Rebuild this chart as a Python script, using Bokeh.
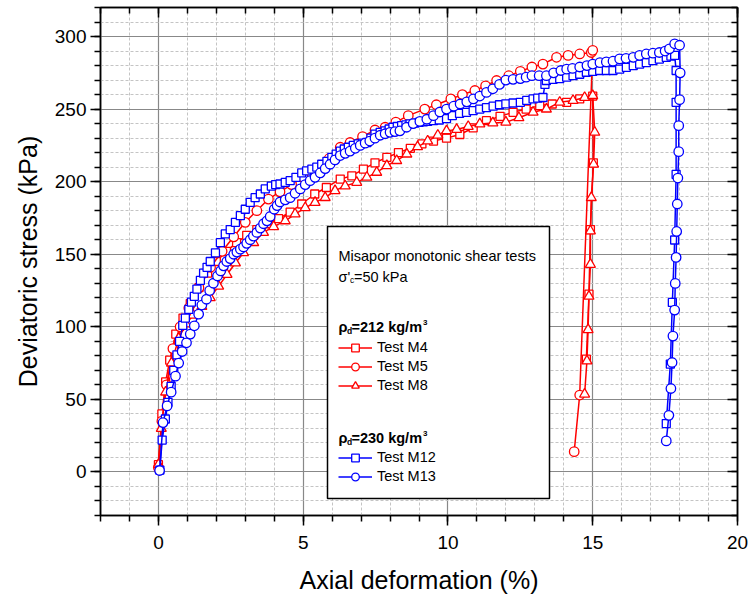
from bokeh.plotting import figure
from bokeh.models import (LinearAxis, FixedTicker, Range1d, BoxAnnotation, Label,
                          Legend, LegendItem, CustomJSTickFormatter)
from bokeh.embed import file_html
from bokeh.resources import INLINE

FONT = "Liberation Sans"
RED = "#ff0000"
BLUE = "#0000ff"

# ---------------- data ----------------
x_major = [0, 5, 10, 15, 20]
x_minor = list(range(-2, 21))
y_major = [0, 50, 100, 150, 200, 250, 300]
y_minor = list(range(-30, 321, 10))

# Test M4 (red squares)
x4 = [0, 0.12, 0.25, 0.39, 0.6, 0.85, 1.1, 1.4, 1.7, 2.0,
      2.35, 2.7, 3.05, 3.4, 3.75, 4.15, 4.55, 4.95, 5.4, 5.8,
      6.28, 6.68, 7.08, 7.48, 7.89, 8.29, 8.7, 9.1, 9.5, 9.95,
      10.41, 10.87, 11.33, 11.8, 12.25, 12.7, 13.17, 13.6, 14.1, 14.55,
      15.0, 15.02, 14.92, 14.87, 14.78]
y4 = [5, 40, 62, 77, 95, 106, 116, 127, 137, 145,
      152, 158, 163, 167, 171, 174.5, 179, 184.6, 191.5, 196,
      201.8, 204, 208.7, 213, 216.7, 220, 223, 226, 228, 230,
      232.5, 237, 242, 245, 247.8, 250, 252.4, 253.5, 254.7, 257,
      259, 213, 167, 122.5, 77.7]

# Test M5 (red circles)
x5 = [0, 0.12, 0.28, 0.5, 0.75, 1.05, 1.4, 1.8, 2.2, 2.6,
      3.0, 3.4, 3.8, 4.2, 4.6, 5.0, 5.4, 5.9, 6.28, 6.62,
      7.05, 7.48, 7.83, 8.2, 8.63, 9.2, 9.6, 10.1, 10.5, 10.93,
      11.3, 11.68, 12.1, 12.5, 12.9, 13.28, 13.75, 14.15, 14.55, 14.95,
      15.0, 14.55, 14.36]
y5 = [3, 35, 60, 85, 100, 113, 127, 141, 152, 162,
      172, 180, 188, 193, 198, 203, 208, 216, 223.7, 227,
      231, 235.6, 237.5, 241, 245.5, 250, 253, 257, 260, 262.8,
      266, 269.7, 273, 276, 279, 281, 285.7, 287, 288, 289,
      290.5, 53, 14]

# Test M8 (red triangles)
x8 = [0, 0.1, 0.25, 0.45, 0.7, 0.95, 1.2, 1.5, 1.79, 2.08,
      2.37, 2.66, 2.94, 3.29, 3.63, 3.98, 4.38, 4.72, 5.07, 5.41,
      5.76, 6.1, 6.45, 6.85, 7.2, 7.54, 7.89, 8.23, 8.58, 8.95,
      9.3, 9.65, 9.95, 10.3, 10.7, 11.1, 11.55, 12.0, 12.45, 12.94,
      13.4, 13.86, 14.32, 14.72, 15.0, 15.07, 15.03, 14.95, 14.92, 14.92,
      14.87, 14.84, 14.8, 14.72]
y8 = [5, 30, 55, 75, 92, 102, 108, 114, 120, 128,
      136, 144, 151, 158, 165, 169, 173, 177.7, 182, 185.7,
      189, 193.8, 197, 199.5, 203, 206.4, 211, 214.5, 219, 224,
      228, 232, 235, 236, 238, 239.8, 240.5, 241, 244, 247.8,
      250, 254.7, 255.9, 258, 259.3, 234, 212, 189, 166, 143,
      121, 98, 76.5, 53.6]

# Test M12 (blue squares)
x12 = [0.05, 0.13, 0.24, 0.33, 0.44, 0.53, 0.64, 0.73, 0.84, 0.93,
       1.05, 1.14, 1.24, 1.33, 1.45, 1.56, 1.68, 1.79, 1.97, 2.14,
       2.31, 2.48, 2.66, 2.83, 3.0, 3.17, 3.34, 3.52, 3.69, 3.9,
       4.05, 4.2, 4.38, 4.55, 4.75, 4.95, 5.12, 5.3, 5.47, 5.64,
       5.82, 5.99, 6.14, 6.28, 6.42, 6.56, 6.73, 6.9, 7.05, 7.2,
       7.34, 7.48, 7.66, 7.83, 7.97, 8.1, 8.25, 8.4, 8.55, 8.69,
       8.85, 9.0, 9.15, 9.3, 9.5, 9.7, 9.95, 10.15, 10.4, 10.64,
       10.87, 11.1, 11.33, 11.56, 11.78, 12.0, 12.25, 12.5, 12.72, 12.94,
       13.1, 13.28, 13.35, 13.4, 13.63, 13.86, 14.1, 14.32, 14.55, 14.78,
       15.0, 15.24, 15.47, 15.7, 15.93, 16.16, 16.4, 16.62, 16.85, 17.08,
       17.3, 17.54, 17.7, 17.83, 17.88, 17.88, 17.88, 17.83, 17.75, 17.68,
       17.54]
y12 = [1.3, 22, 36.5, 48, 59, 70, 80.7, 90, 101, 106,
       112, 117, 121, 126, 132, 137, 141, 145, 151, 158,
       164, 167, 172, 176.6, 181, 185.7, 189, 191.5, 195, 197,
       198, 198.4, 199.5, 200.7, 203, 206, 207.5, 208.7, 210, 212,
       214, 216.7, 219, 221, 222.5, 223.7, 225, 226, 226.5, 227,
       230, 232.8, 234, 235, 236.3, 237.5, 238, 238.6, 239.2, 239.8,
       240.3, 240.8, 241.2, 241.6, 242, 242.5, 243.5, 245.5, 247, 247.8,
       249, 250, 251, 252, 253, 253.6, 254.2, 254.7, 256, 257,
       257.5, 258, 267, 269.7, 270.5, 271, 272, 273, 274, 275.4,
       276, 276.6, 276.6, 276.6, 277.5, 278.8, 280, 281, 282, 283.4,
       284.5, 285.7, 286.5, 287, 276.6, 254.7, 205, 159.8, 116.8, 74.3,
       33.3]

# Test M13 (blue circles)
x13 = [0.04, 0.16, 0.3, 0.44, 0.59, 0.7, 0.82, 0.97, 1.1, 1.24,
       1.39, 1.5, 1.66, 1.77, 1.9, 2.04, 2.15, 2.25, 2.36, 2.48,
       2.6, 2.71, 2.83, 2.94, 3.05, 3.17, 3.28, 3.4, 3.52, 3.63,
       3.75, 3.86, 4.0, 4.1, 4.2, 4.38, 4.55, 4.72, 4.9, 5.07,
       5.24, 5.41, 5.59, 5.76, 5.93, 6.1, 6.28, 6.45, 6.62, 6.8,
       6.97, 7.14, 7.3, 7.48, 7.66, 7.83, 8.0, 8.17, 8.34, 8.57,
       8.8, 9.03, 9.27, 9.5, 9.72, 9.95, 10.2, 10.42, 10.65, 10.88,
       11.1, 11.33, 11.55, 11.78, 12.0, 12.25, 12.5, 12.7, 12.9, 13.15,
       13.4, 13.65, 13.9, 14.1, 14.3, 14.55, 14.8, 15.0, 15.25, 15.47,
       15.7, 15.93, 16.15, 16.4, 16.62, 16.85, 17.08, 17.3, 17.5, 17.65,
       17.83, 18.0, 18.02, 18.0, 17.97, 17.97, 17.94, 17.92, 17.9, 17.88,
       17.85, 17.83, 17.77, 17.74, 17.7, 17.63, 17.54]
y13 = [1, 34, 45.5, 55, 66, 75, 83, 89, 95, 100.7,
       108.7, 115, 119, 125, 130, 135, 138.5, 142, 145, 147,
       150, 151.5, 153.5, 155, 157.5, 160, 162.5, 165, 168, 171,
       173, 176, 181, 183.5, 186, 187.5, 189, 192, 195, 198,
       200.7, 203, 206, 209, 212, 215, 218, 219.5, 221, 223,
       225, 226.5, 228, 230, 232, 233, 234, 234.5, 235, 237.5,
       240, 241.5, 243, 245.5, 248, 250, 252, 253.5, 255, 257,
       259, 261.5, 264, 267, 270, 270.5, 271, 272, 273, 273,
       273, 275, 276.6, 277.5, 278, 279, 280, 281, 282, 282.5,
       283, 284.6, 285, 285.7, 287, 288, 288.5, 289, 290, 291.5,
       295, 294, 275, 256.5, 238.6, 220.7, 202.5, 184.6, 165.7, 147.8,
       129.9, 111.5, 93.6, 75.4, 57.5, 39, 21.4]

series = [
    ("Test M4", x4, y4, RED, "square", 8),
    ("Test M5", x5, y5, RED, "circle", 9.5),
    ("Test M8", x8, y8, RED, "triangle", 10),
    ("Test M12", x12, y12, BLUE, "square", 8),
    ("Test M13", x13, y13, BLUE, "circle", 9.5),
]

# ---------------- figure ----------------
X0, X1, Y0, Y1 = -2, 20, -30, 320
FL, FR, FT, FB = 100, 737, 7, 515  # intended frame edges on the page
p = figure(width=748, height=600, x_range=Range1d(X0, X1), y_range=Range1d(Y0, Y1),
           output_backend="svg", toolbar_location=None,
           min_border_left=FL, min_border_right=748 - FR, min_border_top=FT,
           min_border_bottom=600 - FB)
p.background_fill_color = "white"
p.border_fill_color = "white"
p.outline_line_color = "black"
p.outline_line_width = 1.5

xt = FixedTicker(ticks=x_major, minor_ticks=x_minor)
yt = FixedTicker(ticks=y_major, minor_ticks=y_minor)

for ax in [p.xaxis[0], p.yaxis[0]]:
    ax.axis_line_color = "black"
    ax.axis_line_width = 1.5
    ax.major_tick_line_width = 1.5
    ax.minor_tick_line_width = 1.5
    ax.major_tick_out = 10
    ax.major_tick_in = 0
    ax.minor_tick_out = 6
    ax.minor_tick_in = 0
    ax.major_label_text_font = FONT
    ax.major_label_text_font_size = "19px"
    ax.major_label_text_color = "black"
    ax.axis_label_text_font = FONT
    ax.axis_label_text_font_size = "25px"
    ax.axis_label_text_font_style = "normal"
    ax.axis_label_text_color = "black"

p.xaxis[0].ticker = xt
p.yaxis[0].ticker = yt
p.xaxis[0].axis_label = "Axial deformation (%)"
p.yaxis[0].axis_label = "Deviatoric stress (kPa)"
p.xaxis[0].major_label_standoff = 10
p.xaxis[0].axis_label_standoff = 14
p.yaxis[0].major_label_standoff = 4
p.yaxis[0].axis_label_standoff = 10

blank = CustomJSTickFormatter(code="return ''")
top = LinearAxis(ticker=xt, formatter=blank)
right = LinearAxis(ticker=yt, formatter=blank)
for ax in [top, right]:
    ax.axis_line_color = "black"
    ax.axis_line_width = 1.5
    ax.major_tick_line_width = 1.5
    ax.minor_tick_line_width = 1.5
    ax.major_tick_in = 10
    ax.major_tick_out = 0
    ax.minor_tick_in = 6
    ax.minor_tick_out = 0
    ax.major_label_standoff = 0
    ax.major_label_text_font_size = "1px"
p.add_layout(top, "above")
p.add_layout(right, "right")

p.xgrid.ticker = xt
p.ygrid.ticker = yt
for g in [p.xgrid[0], p.ygrid[0]]:
    g.grid_line_color = "#888888"
    g.grid_line_width = 1.2
    g.minor_grid_line_color = "#c4c4c4"
    g.minor_grid_line_width = 1
    g.minor_grid_line_dash = "3 2"

renderers = {}
for name, xs, ys, col, mk, sz in series:
    lr = p.line(xs, ys, line_color=col, line_width=1.5)
    sr = p.scatter(xs, ys, marker=mk, size=sz, line_color=col, line_width=1.3,
                   fill_color="white")
    renderers[name] = [lr, sr]

# ---------------- legend box ----------------
def dx(px):
    return X0 + (px - FL) / float(FR - FL) * (X1 - X0)

def dy(py):
    return Y1 - (py - FT) / float(FB - FT) * (Y1 - Y0)

box = BoxAnnotation(left=dx(327), right=dx(549), top=dy(226), bottom=dy(498),
                    fill_color="white", fill_alpha=1, line_color="black", line_alpha=1,
                    line_width=1.5, level="annotation")
p.add_layout(box)

leg1 = Legend(items=[LegendItem(label=n, renderers=renderers[n]) for n in ["Test M4", "Test M5", "Test M8"]],
              location=(338 - FL, FB - 394.5))
leg2 = Legend(items=[LegendItem(label=n, renderers=renderers[n]) for n in ["Test M12", "Test M13"]],
              location=(338 - FL, FB - 485.5))
for lg in [leg1, leg2]:
    lg.padding = 0
    lg.margin = 0
    lg.spacing = 0
    lg.glyph_height = 19
    lg.glyph_width = 34
    lg.label_height = 19
    lg.label_standoff = 5
    lg.border_line_color = None
    lg.background_fill_alpha = 0
    lg.label_text_font = FONT
    lg.label_text_font_size = "14.5px"
    lg.label_text_color = "black"
    p.add_layout(lg)

def lab(txt, px, py, size="14.5px", style="normal"):
    p.add_layout(Label(x=dx(px), y=dy(py), text=txt, text_font=FONT, text_font_size=size,
                       text_font_style=style, text_color="black", text_baseline="alphabetic",
                       text_align="left"))

lab("Misapor monotonic shear tests", 338, 255)
lab("\u03c3'", 338, 276.5)
lab("c", 349.5, 279.5, "8.5px")
lab("=50 kPa", 353.5, 276.5)

for base, dens in [(326.5, "=212 kg/m"), (437.5, "=230 kg/m")]:
    lab("\u03c1", 338, base, "14.5px", "bold")
    lab("d", 346.5, base + 3.5, "8.5px", "bold")
    lab(dens, 351, base, "14.5px", "bold")
    lab("3", 422.5, base - 5, "8px", "bold")

open("out.html", "w").write(file_html(p, INLINE))
